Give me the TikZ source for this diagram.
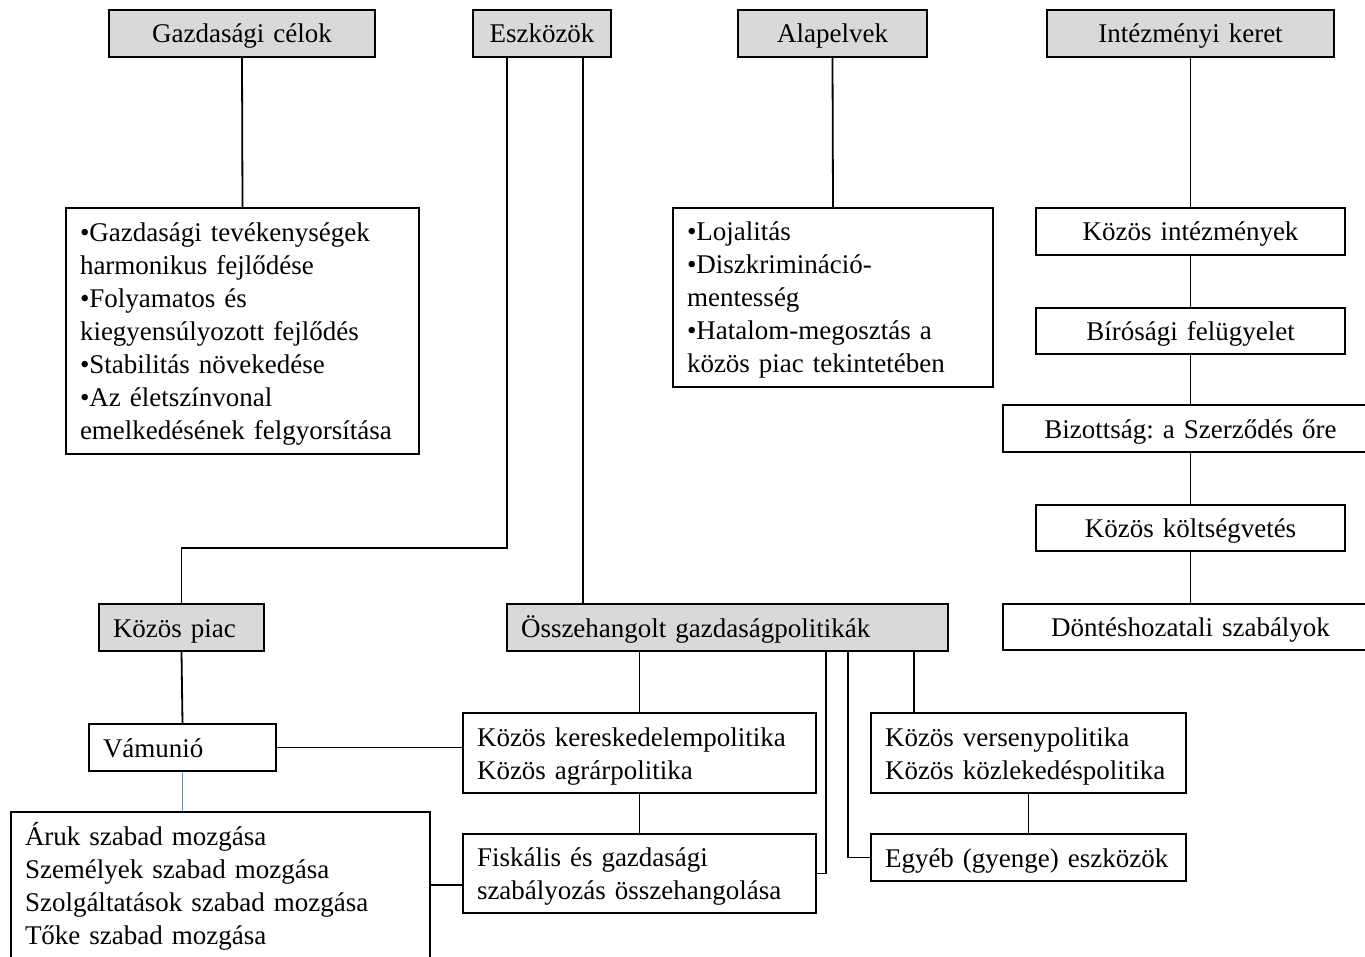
\documentclass[tikz,border=0pt]{standalone}
\usepackage{fontspec}
\setmainfont{Liberation Serif}
\frenchspacing
\definecolor{boxgray}{HTML}{D9D9D9}
\definecolor{linkblue}{HTML}{5B9BD5}
\tikzset{
  box/.style={draw, line width=1.8pt, rectangle, inner ysep=0pt, inner xsep=14pt,
    font=\fontsize{27}{33}\selectfont, text height=25pt, text depth=6pt},
  gbox/.style={box, fill=boxgray},
  conn/.style={line width=1.8pt},
}
\begin{document}
\begin{tikzpicture}[x=1pt,y=-1pt]
\clip (0,0) rectangle (1365,957);
\fill[white] (0,0) rectangle (1365,957);
% top headers
\node[gbox, align=center, text width=238pt, minimum height=47pt] (gc) at (242,33.5) {Gazdasági célok};
\node[gbox, align=center, text width=110pt, minimum height=47pt] (esz) at (542,33.5) {Eszközök};
\node[gbox, align=center, text width=161pt, minimum height=47pt] (al) at (832.5,33.5) {Alapelvek};
\node[gbox, align=center, text width=259pt, minimum height=47pt] (ik) at (1190.5,33.5) {Intézményi keret};
% bullet boxes
\node[box, align=left, text width=325pt, minimum height=246pt, text depth=204pt] (gcl) at (242.5,331)
 {•Gazdasági tevékenységek\\harmonikus fejlődése\\•Folyamatos és\\kiegyensúlyozott fejlődés\\•Stabilitás növekedése\\•Az életszínvonal\\emelkedésének felgyorsítása};
\node[box, align=left, text width=292pt, minimum height=179pt, text depth=138pt] (alp) at (833,297.5)
 {•Lojalitás\\•Diszkrimináció-\\mentesség\\•Hatalom-megosztás a\\közös piac tekintetében};
% institutional column
\node[box, align=center, text width=281pt, minimum height=47pt] (ki) at (1190.5,231.5) {Közös intézmények};
\node[box, align=center, text width=281pt, minimum height=46pt] (bf) at (1190.5,331) {Bírósági felügyelet};
\node[box, align=center, text width=347pt, minimum height=47pt] (bz) at (1190.5,428.5) {Bizottság: a Szerződés őre};
\node[box, align=center, text width=281pt, minimum height=46pt] (kkv) at (1190.5,528) {Közös költségvetés};
\node[box, align=center, text width=347pt, minimum height=46pt] (dh) at (1190.5,627) {Döntéshozatali szabályok};
% middle level
\node[gbox, align=left, text width=137pt, minimum height=47pt] (kp) at (181.5,627.5) {Közös piac};
\node[gbox, align=left, text width=413pt, minimum height=47pt] (oh) at (727.5,627.5) {Összehangolt gazdaságpolitikák};
% lower level
\node[box, align=left, text width=159pt, minimum height=47pt] (vam) at (182.5,747.5) {Vámunió};
\node[box, align=left, text width=325pt, minimum height=80pt, text depth=39pt] (kk) at (639.5,753) {Közös kereskedelempolitika\\Közös agrárpolitika};
\node[box, align=left, text width=287pt, minimum height=80pt, text depth=39pt] (kv) at (1028.5,753) {Közös versenypolitika\\Közös közlekedéspolitika};
\node[box, align=left, text width=325pt, minimum height=79pt, text depth=39pt] (fk) at (639.5,873.5) {Fiskális és gazdasági\\szabályozás összehangolása};
\node[box, align=left, text width=287pt, minimum height=47pt] (eg) at (1028.5,857.5) {Egyéb (gyenge) eszközök};
\node[box, align=left, text width=391pt, minimum height=146pt, text depth=105pt] (ar) at (220.5,885)
 {Áruk szabad mozgása\\Személyek szabad mozgása\\Szolgáltatások szabad mozgása\\Tőke szabad mozgása};
% connectors
\draw[conn] (gc.south) -- (gcl.north);
\draw[conn] (al.south) -- (alp.north);
\draw[conn] (ik.south) -- (ki.north);
\draw[conn] (ki.south) -- (bf.north);
\draw[conn] (bf.south) -- (bz.north);
\draw[conn] (bz.south) -- (kkv.north);
\draw[conn] (kkv.south) -- (dh.north);
\draw[conn] ([xshift=35pt]esz.south west) -- ++(0,490) -| (kp.north);
\draw[conn] ([xshift=111pt]esz.south west) coordinate (e2) -- (e2 |- oh.north);
\draw[conn] (kp.south) -- (vam.north);
\draw[conn, linkblue] (vam.south) -- (vam.south |- ar.north);
\draw[conn] (vam.east) -- (vam.east -| kk.west);
\draw[conn] (ar.east) -- (ar.east -| fk.west);
\draw[conn] (oh.south -| kk.north) -- (kk.north);
\draw[conn] (kk.south) -- (fk.north);
\draw[conn] ([xshift=320pt]oh.south west) |- (fk.east);
\draw[conn] ([xshift=342pt]oh.south west) |- (eg.west);
\draw[conn] ([xshift=408pt]oh.south west) coordinate (o4) -- (o4 |- kv.north);
\draw[conn] (kv.south) -- (eg.north);
\end{tikzpicture}
\end{document}
